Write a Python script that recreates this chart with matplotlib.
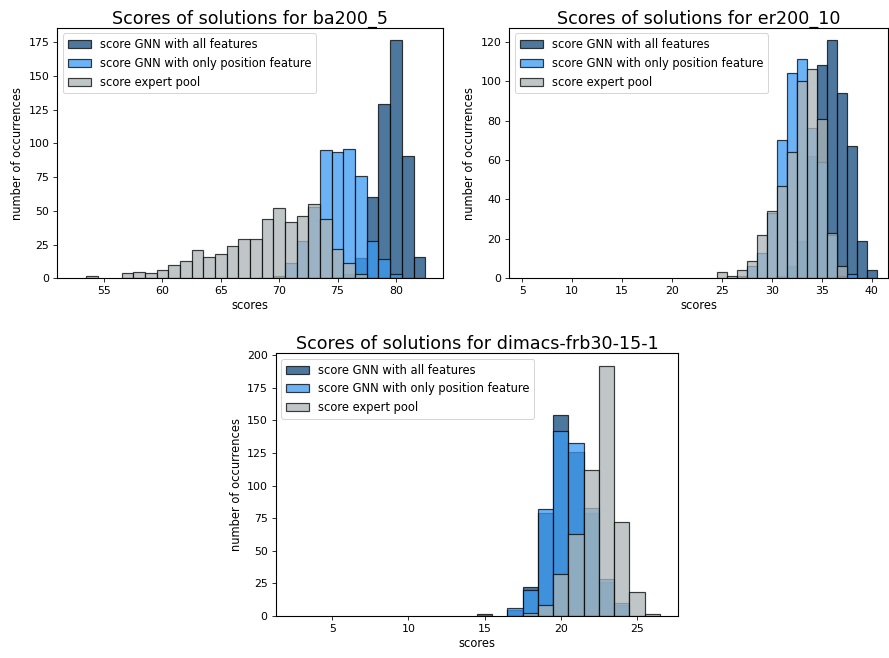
import matplotlib

matplotlib.use("Agg")
import matplotlib.pyplot as plt

# counts per integer score
ba_all_x = [75, 76, 77, 78, 79, 80, 81, 82]
ba_all_y = [1, 3, 15, 60, 129, 177, 91, 16]
ba_pos_x = [70, 71, 72, 73, 74, 75, 76, 77, 78, 79, 80]
ba_pos_y = [2, 11, 28, 53, 95, 94, 96, 76, 28, 14, 3]
ba_exp_x = [54, 57, 58, 59, 60, 61, 62, 63, 64, 65, 66, 67, 68, 69, 70, 71, 72, 73, 74, 75, 76, 77]
ba_exp_y = [2, 4, 5, 4, 6, 10, 13, 21, 16, 18, 24, 29, 29, 44, 52, 42, 46, 55, 44, 22, 11, 3]

er_all_x = [31, 32, 33, 34, 35, 36, 37, 38, 39, 40]
er_all_y = [1, 6, 19, 62, 108, 121, 94, 67, 19, 4]
er_pos_x = [27, 28, 29, 30, 31, 32, 33, 34, 35, 36, 37, 38]
er_pos_y = [1, 6, 13, 33, 70, 104, 111, 76, 59, 22, 1, 2]
er_exp_x = [25, 26, 27, 28, 29, 30, 31, 32, 33, 34, 35, 36, 37]
er_exp_y = [3, 1, 4, 9, 22, 34, 47, 64, 100, 106, 81, 23, 6]

dm_all_x = [15, 17, 18, 19, 20, 21, 22, 23, 24]
dm_all_y = [1, 4, 22, 79, 154, 126, 79, 26, 8]
dm_pos_x = [17, 18, 19, 20, 21, 22, 23, 24]
dm_pos_y = [6, 20, 82, 142, 133, 83, 28, 10]
dm_exp_x = [18, 19, 20, 21, 22, 23, 24, 25, 26]
dm_exp_y = [2, 8, 32, 63, 112, 192, 72, 18, 1]

labels = [
    "score GNN with all features",
    "score GNN with only position feature",
    "score expert pool",
]
colors = ["#134a7e", "#3b9af2", "#abb4b6"]

W, H = 889, 658
plt.rcParams["axes.linewidth"] = 1.1
plt.rcParams["xtick.major.size"] = 4
plt.rcParams["ytick.major.size"] = 4
plt.rcParams["xtick.major.pad"] = 4
plt.rcParams["ytick.major.pad"] = 4
fig = plt.figure(figsize=(W / 72, H / 72), dpi=72)


def add_ax(left, top, right, bottom):
    return fig.add_axes([left / W, 1 - bottom / H, (right - left) / W, (bottom - top) / H])


def draw(ax, series, title, xlim, xticks):
    for (xs, ys), label, color in zip(series, labels, colors):
        ax.bar(xs, ys, width=1.0, color=color, edgecolor="black",
               linewidth=1.2, alpha=0.75, label=label)
    ax.set_xlim(*xlim)
    ax.set_xticks(xticks)
    ax.set_title(title, fontsize=17.5, pad=4)
    ax.set_xlabel("scores", fontsize=11.5, labelpad=3)
    ax.set_ylabel("number of occurrences", fontsize=11.5)
    ax.tick_params(labelsize=11)
    ax.legend(loc="upper left", fontsize=11.5)


ax1 = add_ax(57.3, 27.7, 442.7, 278.3)
draw(ax1, [(ba_all_x, ba_all_y), (ba_pos_x, ba_pos_y), (ba_exp_x, ba_exp_y)],
     "Scores of solutions for ba200_5", (51.0, 84.0), [55, 60, 65, 70, 75, 80])

ax2 = add_ax(509.3, 27.7, 888.5, 278.3)
draw(ax2, [(er_all_x, er_all_y), (er_pos_x, er_pos_y), (er_exp_x, er_exp_y)],
     "Scores of solutions for er200_10", (3.7, 41.7), [5, 10, 15, 20, 25, 30, 35, 40])

ax3 = add_ax(275.7, 353.3, 678.3, 615.7)
draw(ax3, [(dm_all_x, dm_all_y), (dm_pos_x, dm_pos_y), (dm_exp_x, dm_exp_y)],
     "Scores of solutions for dimacs-frb30-15-1", (1.3, 27.7), [5, 10, 15, 20, 25])

fig.savefig("out.png", dpi=72)
